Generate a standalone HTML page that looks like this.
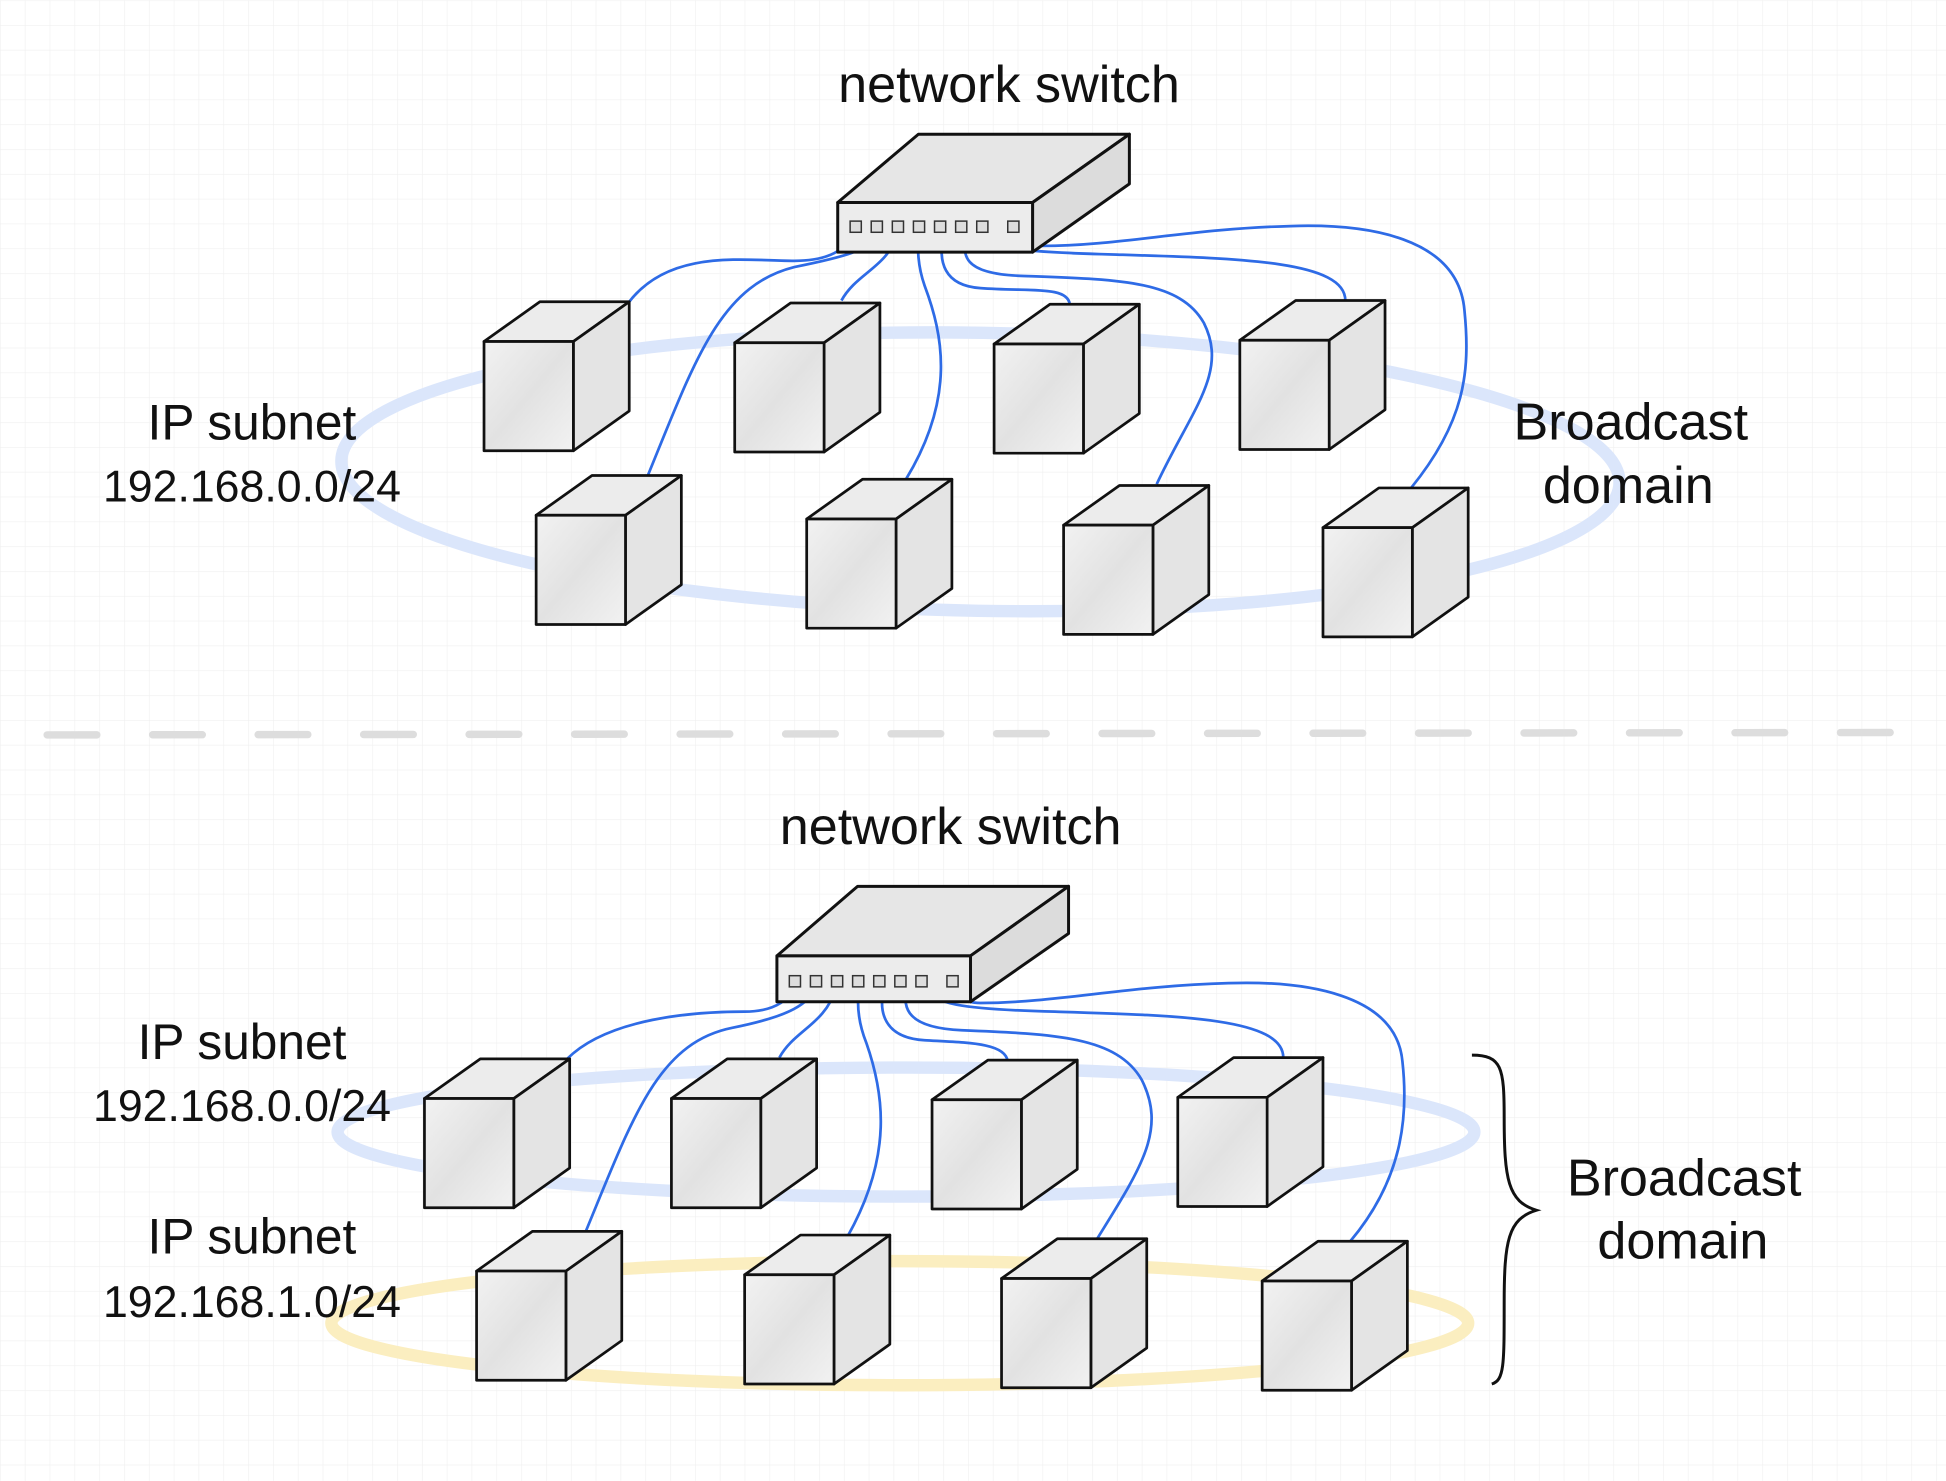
<!DOCTYPE html>
<html><head><meta charset="utf-8"><style>
html,body{margin:0;padding:0;background:#fff;}
svg{display:block;}
text{font-family:"Liberation Sans",sans-serif;fill:#111;}
</style></head><body>
<svg width="1946" height="1481" viewBox="0 0 1568 1193" xmlns="http://www.w3.org/2000/svg">
<defs>
<pattern id="g" width="20" height="20" patternUnits="userSpaceOnUse">
<path d="M20 0H0V20" fill="none" stroke="#f0f0f0" stroke-width="1"/>
</pattern>
<linearGradient id="cf" x1="0" y1="0" x2="1" y2="1"><stop offset="0" stop-color="#f2f2f2"/><stop offset="0.5" stop-color="#e2e2e2"/><stop offset="1" stop-color="#f2f2f2"/></linearGradient>
<g id="cube" stroke="#111" stroke-width="2.2" stroke-linejoin="round">
<path d="M0 0 L45 -32 L117 -32 L72 0 Z" fill="#ececec"/>
<path d="M72 0 L117 -32 L117 56 L72 88 Z" fill="#e4e4e4"/>
<rect x="0" y="0" width="72" height="88" fill="url(#cf)"/>
</g>
</defs>
<rect width="1568" height="1193" fill="url(#g)"/>

<!-- top ellipse -->
<ellipse cx="790" cy="380" rx="515" ry="112" fill="none" stroke="#dbe6fb" stroke-width="10" transform="rotate(1 790 380)"/>
<!-- dashed divider -->
<line x1="38" y1="592" x2="1560" y2="590" stroke="#dddddd" stroke-width="6" stroke-dasharray="40 45" stroke-linecap="round"/>
<!-- bottom ellipses -->
<ellipse cx="730" cy="912" rx="458" ry="52" fill="none" stroke="#dbe6fb" stroke-width="10"/>
<ellipse cx="725" cy="1066" rx="458" ry="50" fill="none" stroke="#fbeec0" stroke-width="10"/>

<!-- top cables -->
<g fill="none" stroke="#2e6be6" stroke-width="2.2">
<path d="M507 243 C540 200 600 210 640 210 C670 210 680 200 688 190"/>
<path d="M522 383 C560 290 580 230 640 215 C690 205 700 200 704 190"/>
<path d="M678 242 C690 220 715 215 722 190"/>
<path d="M730 386 C770 320 760 270 745 230 C738 210 740 195 740 190"/>
<path d="M862 245 C860 230 830 235 790 232 C760 230 756 210 760 190"/>
<path d="M932 390 C960 330 990 300 970 260 C950 225 900 225 820 222 C775 220 776 205 778 190"/>
<path d="M1084 242 C1084 210 1000 208 900 205 C820 203 800 200 798 190"/>
<path d="M1137 393 C1180 340 1185 300 1180 250 C1175 190 1100 180 1040 182 C960 184 900 198 840 198 C825 198 820 190 815 183"/>
</g>
<!-- top switch -->
<g stroke="#111" stroke-width="2.4" stroke-linejoin="round">
<path d="M675 163 L740 108 L910 108 L832 163 Z" fill="#e6e6e6"/>
<path d="M832 163 L910 108 L910 148 L832 203 Z" fill="#dcdcdc"/>
<rect x="675" y="163" width="157" height="40" fill="#ececec"/>
</g>
<g fill="#ddd" stroke="#333" stroke-width="1.2">
<rect x="685" y="178" width="9" height="9"/><rect x="702" y="178" width="9" height="9"/><rect x="719" y="178" width="9" height="9"/><rect x="736" y="178" width="9" height="9"/><rect x="753" y="178" width="9" height="9"/><rect x="770" y="178" width="9" height="9"/><rect x="787" y="178" width="9" height="9"/><rect x="812" y="178" width="9" height="9"/>
</g>
<!-- top cubes -->
<use href="#cube" x="390" y="275"/><use href="#cube" x="592" y="276"/><use href="#cube" x="801" y="277"/><use href="#cube" x="999" y="274"/>
<use href="#cube" x="432" y="415"/><use href="#cube" x="650" y="418"/><use href="#cube" x="857" y="423"/><use href="#cube" x="1066" y="425"/>

<text x="813" y="82" font-size="42" text-anchor="middle">network switch</text>
<text x="203" y="354" font-size="40" text-anchor="middle">IP subnet</text>
<text x="203" y="404" font-size="36" text-anchor="middle">192.168.0.0/24</text>
<text x="1314" y="354" font-size="42" text-anchor="middle">Broadcast</text>
<text x="1312" y="405" font-size="42" text-anchor="middle">domain</text>

<!-- bottom cables -->
<g fill="none" stroke="#2e6be6" stroke-width="2.2">
<path d="M457 853 C490 820 560 815 600 815 C625 815 635 805 640 797"/>
<path d="M472 992 C510 900 530 840 590 828 C640 818 650 808 657 797"/>
<path d="M628 852 C640 830 665 825 673 797"/>
<path d="M683 996 C720 930 712 880 698 840 C690 820 691 805 692 797"/>
<path d="M812 855 C810 840 780 840 745 838 C712 836 708 815 712 797"/>
<path d="M884 998 C920 940 940 910 920 870 C900 835 850 833 775 830 C730 828 728 812 730 797"/>
<path d="M1034 852 C1034 820 950 818 850 815 C770 813 752 808 750 797"/>
<path d="M1088 1000 C1130 950 1135 900 1130 855 C1125 800 1050 790 990 792 C910 794 850 808 790 808 C775 808 770 800 767 792"/>
</g>
<!-- bottom switch -->
<g stroke="#111" stroke-width="2.4" stroke-linejoin="round">
<path d="M626 770 L691 714 L861 714 L782 770 Z" fill="#e6e6e6"/>
<path d="M782 770 L861 714 L861 752 L782 807 Z" fill="#dcdcdc"/>
<rect x="626" y="770" width="156" height="37" fill="#ececec"/>
</g>
<g fill="#ddd" stroke="#333" stroke-width="1.2">
<rect x="636" y="786" width="9" height="9"/><rect x="653" y="786" width="9" height="9"/><rect x="670" y="786" width="9" height="9"/><rect x="687" y="786" width="9" height="9"/><rect x="704" y="786" width="9" height="9"/><rect x="721" y="786" width="9" height="9"/><rect x="738" y="786" width="9" height="9"/><rect x="763" y="786" width="9" height="9"/>
</g>
<!-- bottom cubes -->
<use href="#cube" x="342" y="885"/><use href="#cube" x="541" y="885"/><use href="#cube" x="751" y="886"/><use href="#cube" x="949" y="884"/>
<use href="#cube" x="384" y="1024"/><use href="#cube" x="600" y="1027"/><use href="#cube" x="807" y="1030"/><use href="#cube" x="1017" y="1032"/>

<!-- brace -->
<path d="M1186 850 C1210 850 1212 860 1212 900 C1212 950 1215 968 1238 975 C1215 982 1212 1000 1212 1050 C1212 1100 1212 1112 1202 1115" fill="none" stroke="#111" stroke-width="2.4"/>

<text x="766" y="680" font-size="42" text-anchor="middle">network switch</text>
<text x="195" y="853" font-size="40" text-anchor="middle">IP subnet</text>
<text x="195" y="903" font-size="36" text-anchor="middle">192.168.0.0/24</text>
<text x="203" y="1010" font-size="40" text-anchor="middle">IP subnet</text>
<text x="203" y="1061" font-size="36" text-anchor="middle">192.168.1.0/24</text>
<text x="1357" y="963" font-size="42" text-anchor="middle">Broadcast</text>
<text x="1356" y="1014" font-size="42" text-anchor="middle">domain</text>
</svg>
</body></html>
